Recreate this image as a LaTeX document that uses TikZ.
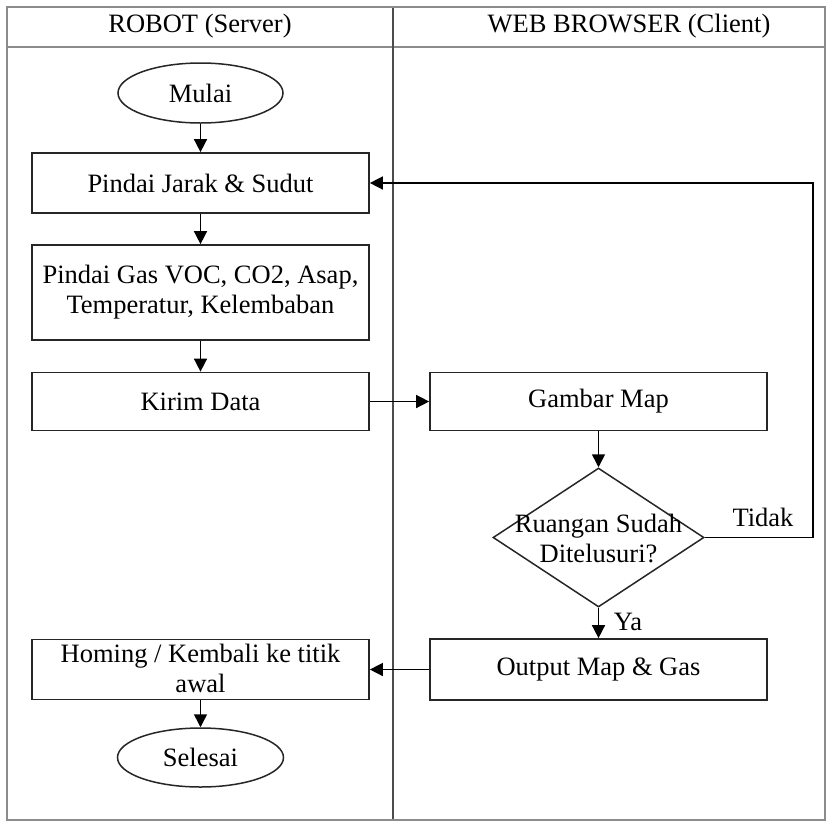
\documentclass[tikz,border=0pt]{standalone}
\usepackage{fontspec}
\setmainfont{Liberation Serif}
\usetikzlibrary{shapes.geometric,arrows.meta}
\begin{document}
\begin{tikzpicture}[x=1pt,y=-1pt,
  font=\fontsize{26.5}{30}\selectfont,
  procbox/.style={draw=black!85,line width=1.7pt,minimum width=337pt,inner sep=0pt,align=center},
  termnode/.style={draw=black!85,line width=1.5pt,ellipse,inner sep=0pt},
  flow/.style={draw=black,line width=1.5pt,-{Triangle[length=13pt,width=13pt]}},
  lane/.style={draw=black!45,line width=2.6pt},
  divider/.style={draw=black!70,line width=1.6pt}]
\useasboundingbox (0,0) rectangle (828,823);
% swimlane frame
\draw[lane] (7,7) rectangle (825,820);
\draw[lane] (7,47) -- (825,47);
\draw[divider] (393,8) -- (393,819);
\node (hrobot) at (200,26) {ROBOT (Server)};
\node (hweb) at (629,26) {WEB BROWSER (Client)};
% robot lane
\node[termnode,minimum width=165pt,minimum height=60pt] (mulai) at (200.5,93) {Mulai};
\node[procbox,minimum height=60pt] (jarak) at (200.5,183) {Pindai Jarak \& Sudut};
\node[procbox,minimum height=95pt] (gas) at (200.5,292.5) {Pindai Gas VOC, CO2, Asap,\\Temperatur, Kelembaban};
\node[procbox,minimum height=58pt] (kirim) at (200.5,401.5) {Kirim Data};
\node[procbox,minimum height=60pt] (homing) at (200.5,669.5) {};
\node[align=center,inner sep=0pt] (homingtxt) at (200.5,668) {Homing / Kembali ke titik\\awal};
\node[termnode,minimum width=166pt,minimum height=59pt] (selesai) at (200.5,757.5) {Selesai};
% browser lane
\node[procbox,minimum height=58pt] (gambar) at (598.5,401.5) {Gambar Map};
\node[draw=black!85,line width=1.5pt,diamond,minimum width=211pt,minimum height=139pt,inner sep=0pt] (cek) at (598.5,537.5) {};
\node[align=center,inner sep=0pt] (cektxt) at (598.5,538) {Ruangan Sudah\\Ditelusuri?};
\node[procbox,minimum height=61pt] (output) at (598.5,669.5) {Output Map \& Gas};
\coordinate (loop) at (813,537.5);
% connectors
\draw[flow] (mulai) -- (jarak);
\draw[flow] (jarak) -- (gas);
\draw[flow] (gas) -- (kirim);
\draw[flow] (kirim.east) -- (gambar.west);
\draw[flow] (gambar) -- (cek.north);
\draw[flow] (cek.east) -- (loop) |- (jarak.east);
\node (tidak) at (763,517) {Tidak};
\draw[flow] (cek.south) -- (output.north);
\node (ya) at (628,622) {Ya};
\draw[flow] (output.west) -- (homing.east);
\draw[flow] (homing) -- (selesai);
\end{tikzpicture}
\end{document}
